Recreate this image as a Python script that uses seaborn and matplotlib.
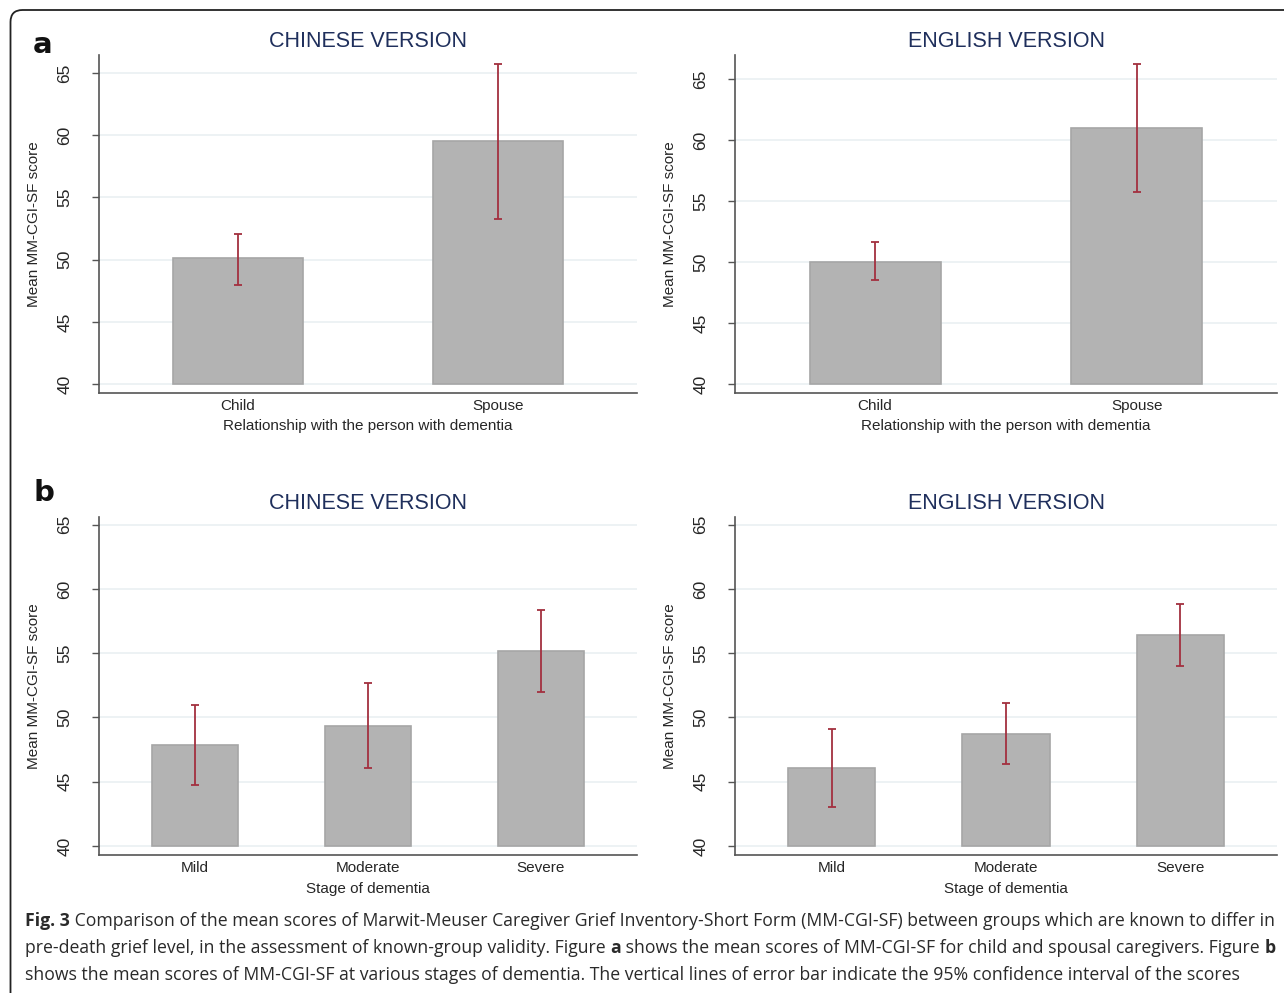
import numpy as np
import pandas as pd
import matplotlib
matplotlib.use("Agg")
import matplotlib.pyplot as plt
import seaborn as sns
from matplotlib.patches import FancyBboxPatch
from matplotlib.transforms import IdentityTransform

# -------------------------------
# DATA
# -------------------------------
relation = ["Child", "Spouse"]
stage = ["Mild", "Moderate", "Severe"]

rel_cn_mean = [50.1, 59.5]
rel_cn_lo = [48.0, 53.3]
rel_cn_hi = [52.1, 65.7]

rel_en_mean = [50.0, 61.0]
rel_en_lo = [48.5, 55.7]
rel_en_hi = [51.6, 66.2]

stage_cn_mean = [47.85, 49.3, 55.15]
stage_cn_lo = [44.75, 46.05, 52.0]
stage_cn_hi = [50.95, 52.65, 58.4]

stage_en_mean = [46.05, 48.75, 56.4]
stage_en_lo = [43.0, 46.4, 54.0]
stage_en_hi = [49.1, 51.1, 58.8]

yticks = [40, 45, 50, 55, 60, 65]
BASE = 40

# -------------------------------
# STYLE
# -------------------------------
sns.set_theme(style="ticks")
plt.rcParams["font.family"] = ["Liberation Sans", "DejaVu Sans"]

BAR = "#b3b3b3"
EDGE = "#a6a6a6"
ERR = "#a3303f"
TITLE = "#1f2f5c"
GRID = "#edf2f4"
SPINE = "#555555"

W, H = 1284, 993
fig = plt.figure(figsize=(W / 100, H / 100), dpi=100)


def rect(left, top, right, bottom):
    return [left / W, 1 - bottom / H, (right - left) / W, (bottom - top) / H]


def draw_panel(box, cats, means, lo, hi, title, xlabel, ylim, xlim):
    ax = fig.add_axes(box)
    df = pd.DataFrame({"cat": cats, "mean": means})
    sns.barplot(data=df, x="cat", y="mean", color=BAR, edgecolor=EDGE,
                linewidth=1.2, width=0.5, saturation=1, errorbar=None, ax=ax)
    # bars start at 40 like the Stata original
    for bar, m in zip(ax.patches, means):
        bar.set_y(BASE)
        bar.set_height(m - BASE)
    x = np.arange(len(cats))
    m = np.array(means)
    ax.errorbar(x, m, yerr=[m - np.array(lo), np.array(hi) - m], fmt="none",
                ecolor=ERR, elinewidth=1.3, capsize=3, capthick=1.3, zorder=5)

    ax.set_ylim(*ylim)
    ax.set_xlim(*xlim)
    ax.set_yticks(yticks)
    ax.set_yticklabels([str(t) for t in yticks], rotation=90, va="center")
    for t in yticks:
        ax.axhline(t, color=GRID, lw=1.4, zorder=0)
    ax.set_axisbelow(True)

    ax.tick_params(axis="y", length=5, width=1, color=SPINE, labelsize=12.5, pad=14)
    ax.tick_params(axis="x", length=0, labelsize=11, pad=4)
    for s in ["top", "right"]:
        ax.spines[s].set_visible(False)
    for s in ["left", "bottom"]:
        ax.spines[s].set_color(SPINE)
        ax.spines[s].set_linewidth(1.2)

    ax.set_ylabel("Mean MM-CGI-SF score", fontsize=11, labelpad=12)
    ax.set_xlabel(xlabel, fontsize=11, labelpad=5)
    ax.set_title(title, fontsize=15.5, color=TITLE, pad=6)
    return ax


draw_panel(rect(99, 55, 637, 393), relation, rel_cn_mean, rel_cn_lo, rel_cn_hi,
           "CHINESE VERSION", "Relationship with the person with dementia",
           (39.28, 66.45), (-0.535, 1.535))
draw_panel(rect(735, 55, 1277, 393), relation, rel_en_mean, rel_en_lo, rel_en_hi,
           "ENGLISH VERSION", "Relationship with the person with dementia",
           (39.26, 66.97), (-0.535, 1.535))
draw_panel(rect(99, 517, 637, 855), stage, stage_cn_mean, stage_cn_lo, stage_cn_hi,
           "CHINESE VERSION", "Stage of dementia",
           (39.3, 65.6), (-0.555, 2.555))
draw_panel(rect(735, 517, 1277, 855), stage, stage_en_mean, stage_en_lo, stage_en_hi,
           "ENGLISH VERSION", "Stage of dementia",
           (39.3, 65.6), (-0.555, 2.555))

# panel letters
fig.text(33 / W, 1 - 45 / H, "a", fontsize=21, fontweight="bold", va="center",
         family=["DejaVu Sans"], color="#111111")
fig.text(33 / W, 1 - 493 / H, "b", fontsize=21, fontweight="bold", va="center",
         family=["DejaVu Sans"], color="#111111")

# outer frame
frame = FancyBboxPatch((10.5, -20), 1320, 1003, boxstyle="round,pad=0,rounding_size=12",
                       transform=IdentityTransform(), fill=False, ec="#222222", lw=1.3)
fig.patches.append(frame)

# -------------------------------
# CAPTION (mixed bold / regular)
# -------------------------------
caption = [
    [("Fig. 3", True), (" Comparison of the mean scores of Marwit-Meuser Caregiver Grief "
                        "Inventory-Short Form (MM-CGI-SF) between groups which are known to differ in", False)],
    [("pre-death grief level, in the assessment of known-group validity. Figure ", False), ("a", True),
     (" shows the mean scores of MM-CGI-SF for child and spousal caregivers. Figure ", False), ("b", True)],
    [("shows the mean scores of MM-CGI-SF at various stages of dementia. The vertical lines "
      "of error bar indicate the 95% confidence interval of the scores", False)],
]
cap_font = ["Open Sans", "DejaVu Sans"]
renderer = fig.canvas.get_renderer()


def line_width(line, size):
    total = 0
    for txt, bold in line:
        t = fig.text(0, 0, txt, fontsize=size, fontweight="bold" if bold else "normal",
                     family=cap_font)
        total += t.get_window_extent(renderer).width
        t.remove()
    return total


# fit first line to the width it takes in the original (x 25 -> 1272)
cap_size = 13.0 * 1245 / line_width(caption[0], 13.0)

baselines = [926, 953, 980]
for line, yb in zip(caption, baselines):
    xpix = 25
    for txt, bold in line:
        t = fig.text(xpix / W, 1 - yb / H, txt, fontsize=cap_size, va="baseline",
                     fontweight="bold" if bold else "normal", family=cap_font, color="#2a2a2a")
        xpix += t.get_window_extent(renderer).width

fig.savefig("out.png", dpi=100)
